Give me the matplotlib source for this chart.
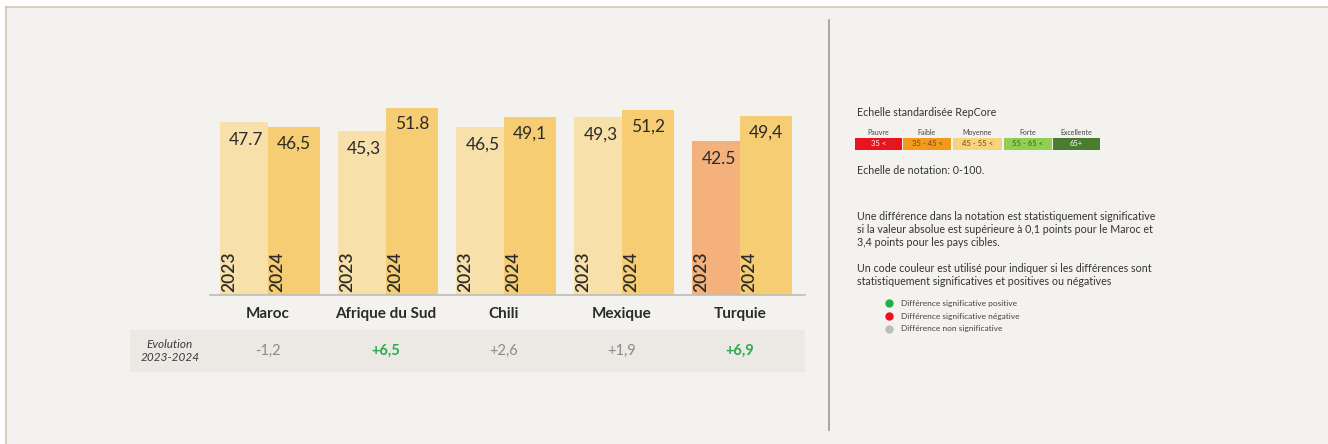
import matplotlib
matplotlib.use("Agg")
import matplotlib.pyplot as plt
from matplotlib.patches import Rectangle
from matplotlib.lines import Line2D

plt.rcParams['font.family'] = ['Lato', 'DejaVu Sans']

# ---- data ----
countries = ["Maroc", "Afrique du Sud", "Chili", "Mexique", "Turquie"]
years = ["2023", "2024"]
values_2023 = [47.7, 45.3, 46.5, 49.3, 42.5]
values_2024 = [46.5, 51.8, 49.1, 51.2, 49.4]
labels_2023 = ["47.7", "45,3", "46,5", "49,3", "42.5"]
labels_2024 = ["46,5", "51.8", "49,1", "51,2", "49,4"]
evolution = ["-1,2", "+6,5", "+2,6", "+1,9", "+6,9"]
evolution_signif = [False, True, False, False, True]
colors_2023 = ["#f8e0ab", "#f8e0ab", "#f8e0ab", "#f8e0ab", "#f5b17b"]
color_2024 = "#f6cd72"

scale_names = ["Pauvre", "Faible", "Moyenne", "Forte", "Excellente"]
scale_ranges = ["35 <", "35 - 45 <", "45 - 55 <", "55 - 65 <", "65+"]
scale_colors = ["#e8141e", "#f39a1c", "#f6d37c", "#8fcf52", "#4b7d2f"]
scale_textcolors = ["white", "#6b4a10", "#6b4a10", "#3b5f1a", "white"]

legend_labels = ["Différence significative positive",
                 "Différence significative négative",
                 "Différence non significative"]
legend_colors = ["#1fb04a", "#e8141e", "#bdbdbd"]

W, H = 1328, 444
fig = plt.figure(figsize=(W / 100, H / 100), dpi=100)
fig.patch.set_facecolor("white")

def fx(x):
    return x / W

def fy(y):
    return 1 - y / H

# background panel with border
fig.patches.append(Rectangle((fx(6), 0), 1 - fx(6), fy(7), transform=fig.transFigure,
                             facecolor="#f4f2ef", edgecolor="none", zorder=-10))
fig.add_artist(Line2D([fx(6), 1], [fy(7), fy(7)], color="#cfc6b6", lw=1.2, transform=fig.transFigure))
fig.add_artist(Line2D([fx(6), fx(6)], [0, fy(7)], color="#cfc6b6", lw=1.2, transform=fig.transFigure))

# evolution band
fig.patches.append(Rectangle((fx(130), fy(372)), fx(805) - fx(130), fy(330) - fy(372),
                             transform=fig.transFigure, facecolor="#ece9e5", edgecolor="none", zorder=-5))

# divider
fig.add_artist(Line2D([fx(829), fx(829)], [fy(430), fy(20)], color="#9a9a9a", lw=1.2,
                      transform=fig.transFigure))

# ---- bar axes ----
ax_left, ax_right = 210, 805
ax_bottom, ax_top = 295, 78
ax = fig.add_axes([fx(ax_left), fy(ax_bottom), fx(ax_right) - fx(ax_left), fy(ax_top) - fy(ax_bottom)])
ax.set_zorder(5)
ax.set_facecolor("none")
ax.set_xlim(-0.49, 4.55)
ax.set_ylim(0, 60)
for s in ["top", "right", "left"]:
    ax.spines[s].set_visible(False)
ax.spines["bottom"].set_color("#bdbdbd")
ax.spines["bottom"].set_linewidth(1.2)
ax.set_yticks([])
ax.set_xticks([])

x = list(range(len(countries)))
w1, w2 = 0.405, 0.44
ax.bar([i - w1 / 2 for i in x], values_2023, width=w1, color=colors_2023, zorder=2)
ax.bar([i + w2 / 2 for i in x], values_2024, width=w2, color=color_2024, zorder=2)

for i in x:
    ax.annotate(labels_2023[i], (i - w1 / 2 + 0.02, values_2023[i]), xytext=(0, -7),
                textcoords="offset points", ha="center", va="top", fontsize=12.5, color="#2b2b2b")
    ax.annotate(labels_2024[i], (i + w2 / 2, values_2024[i]), xytext=(0, -6),
                textcoords="offset points", ha="center", va="top", fontsize=12.5, color="#2b2b2b")
    ax.annotate(years[0], (i - w1, 0), xytext=(1, 2), textcoords="offset points",
                ha="left", va="bottom", rotation=90, fontsize=12.5, fontweight="semibold",
                color="#2b2b2b")
    ax.annotate(years[1], (i, 0), xytext=(1, 2), textcoords="offset points",
                ha="left", va="bottom", rotation=90, fontsize=12.5, fontweight="semibold",
                color="#2b2b2b")

# category labels and evolution values (aligned with data x positions)
for i, c in enumerate(countries):
    xd = ax.transData.transform((i, 0))[0]
    xf = fig.transFigure.inverted().transform((xd, 0))[0]
    fig.text(xf, fy(314), c, ha="center", va="center", fontsize=11, fontweight="bold", color="#2b2b2b")
    col = "#2daa4f" if evolution_signif[i] else "#8a8a8a"
    fig.text(xf, fy(351), evolution[i], ha="center", va="center", fontsize=10.5,
             fontweight="bold" if evolution_signif[i] else "normal", color=col)

fig.text(fx(170), fy(351), "Evolution\n2023-2024", ha="center", va="center", fontsize=8.5,
         style="italic", color="#3a3a3a", linespacing=1.2)

# ---- right panel ----
tc = "#333333"
fig.text(fx(857), fy(113), "Echelle standardisée RepCore", ha="left", va="center", fontsize=7.7, color=tc)
box_x = [855, 903, 953, 1004, 1053]
box_w = [47, 48, 49, 48, 47]
for i in range(len(scale_names)):
    fig.patches.append(Rectangle((fx(box_x[i]), fy(150)), fx(box_w[i]), fy(138) - fy(150),
                                 transform=fig.transFigure, facecolor=scale_colors[i],
                                 edgecolor="none", zorder=2))
    cx = fx(box_x[i] + box_w[i] / 2)
    fig.text(cx, fy(132), scale_names[i], ha="center", va="center", fontsize=5, color="#444444")
    fig.text(cx, fy(144), scale_ranges[i], ha="center", va="center", fontsize=5.5,
             color=scale_textcolors[i])

fig.text(fx(857), fy(170), "Echelle de notation: 0-100.", ha="left", va="center", fontsize=7.7, color=tc)

para1 = ("Une différence dans la notation est statistiquement significative\n"
         "si la valeur absolue est supérieure à 0,1 points pour le Maroc et\n"
         "3,4 points pour les pays cibles.")
fig.text(fx(857), fy(211), para1, ha="left", va="top", fontsize=7.7, color=tc, linespacing=1.2)
para2 = ("Un code couleur est utilisé pour indiquer si les différences sont\n"
         "statistiquement significatives et positives ou négatives")
fig.text(fx(857), fy(263), para2, ha="left", va="top", fontsize=7.7, color=tc, linespacing=1.2)

for i, (lab, col) in enumerate(zip(legend_labels, legend_colors)):
    yy = 303 + i * 13
    fig.add_artist(Line2D([fx(889)], [fy(yy)], marker="o", markersize=5, color=col,
                          linestyle="none", transform=fig.transFigure))
    fig.text(fx(901), fy(yy), lab, ha="left", va="center", fontsize=6, color="#444444")

fig.savefig("out.png", dpi=100, facecolor=fig.get_facecolor())
